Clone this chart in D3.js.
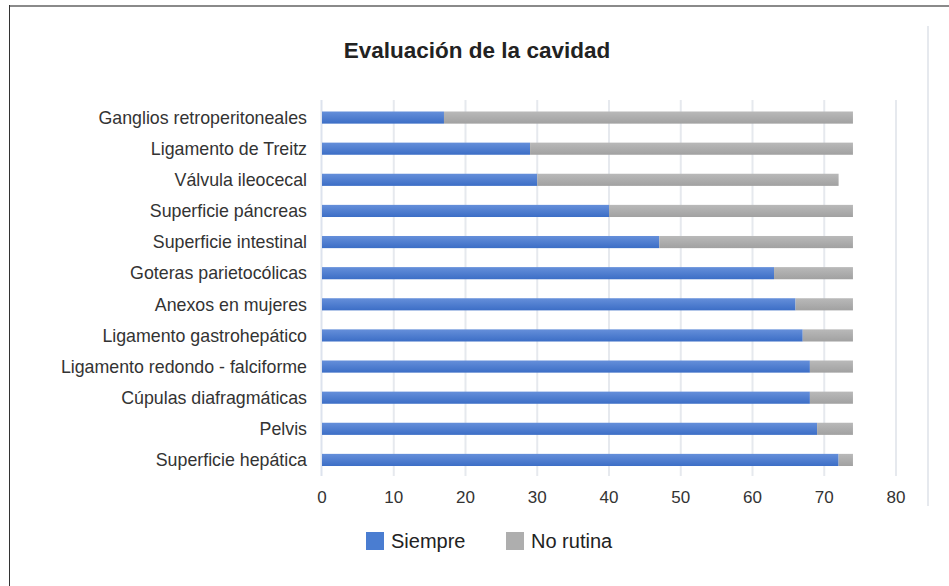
<!DOCTYPE html>
<html>
<head>
<meta charset="utf-8">
<script src="https://cdn.jsdelivr.net/npm/d3@7"></script>
<style>
  body { margin: 0; background: #fff; }
  svg { display: block; font-family: "Liberation Sans", Arial, sans-serif; }
</style>
</head>
<body>
<svg id="chart" width="949" height="586"></svg>
<script>
// Data
const categories = [
  "Ganglios retroperitoneales",
  "Ligamento de Treitz",
  "Válvula ileocecal",
  "Superficie páncreas",
  "Superficie intestinal",
  "Goteras parietocólicas",
  "Anexos en mujeres",
  "Ligamento gastrohepático",
  "Ligamento redondo - falciforme",
  "Cúpulas diafragmáticas",
  "Pelvis",
  "Superficie hepática"
];
const siempre   = [17, 29, 30, 40, 47, 63, 66, 67, 68, 68, 69, 72];
const noRutina  = [57, 45, 42, 34, 27, 11, 8, 7, 6, 6, 5, 2];
const seriesNames = ["Siempre", "No rutina"];
const xTicks = [0, 10, 20, 30, 40, 50, 60, 70, 80];

const svg = d3.select("#chart");
const margin = { top: 102, left: 322, right: 53, bottom: 110 };
const W = 949, H = 586;

// Frame
svg.append("line").attr("x1", 9).attr("x2", 949).attr("y1", 6).attr("y2", 6)
  .attr("stroke", "#8a8a8a").attr("stroke-width", 2);
svg.append("line").attr("x1", 9.5).attr("x2", 9.5).attr("y1", 5).attr("y2", H)
  .attr("stroke", "#333").attr("stroke-width", 1);
svg.append("line").attr("x1", 928).attr("x2", 928).attr("y1", 26).attr("y2", 506)
  .attr("stroke", "#e6e9ee").attr("stroke-width", 2);

// Gradients
const defs = svg.append("defs");
function grad(id, top, bottom) {
  const g = defs.append("linearGradient").attr("id", id)
    .attr("x1", 0).attr("x2", 0).attr("y1", 0).attr("y2", 1);
  g.append("stop").attr("offset", "0%").attr("stop-color", top);
  g.append("stop").attr("offset", "100%").attr("stop-color", bottom);
}
grad("gBlue", "#658fda", "#3c6ec6");
grad("gGray", "#b9b9b9", "#a1a1a1");

const x = d3.scaleLinear().domain([0, 80]).range([margin.left, 896]);
const y = d3.scaleBand().domain(categories)
  .range([margin.top, 475.5]).paddingInner(0.61).paddingOuter(0.305);

// Grid
svg.append("g").selectAll("line").data(xTicks.slice(1)).join("line")
  .attr("x1", d => x(d)).attr("x2", d => x(d))
  .attr("y1", margin.top - 2).attr("y2", 476)
  .attr("stroke", "#e6e9ee").attr("stroke-width", 2);
svg.append("line").attr("x1", x(0) - 0.5).attr("x2", x(0) - 0.5)
  .attr("y1", margin.top - 2).attr("y2", 476)
  .attr("stroke", "#dde3ee").attr("stroke-width", 2);

// Bars
const rows = categories.map((c, i) => ({ c, a: siempre[i], b: noRutina[i] }));
const bars = svg.append("g");
bars.selectAll("rect.s").data(rows).join("rect").attr("class", "s")
  .attr("x", x(0)).attr("y", d => y(d.c))
  .attr("width", d => x(d.a) - x(0)).attr("height", y.bandwidth())
  .attr("fill", "url(#gBlue)");
bars.selectAll("rect.n").data(rows).join("rect").attr("class", "n")
  .attr("x", d => x(d.a)).attr("y", d => y(d.c))
  .attr("width", d => x(d.a + d.b) - x(d.a)).attr("height", y.bandwidth())
  .attr("fill", "url(#gGray)");

// Category labels
svg.append("g").selectAll("text").data(categories).join("text")
  .attr("x", 307).attr("y", d => y(d) + y.bandwidth() / 2)
  .attr("dy", "0.35em").attr("text-anchor", "end")
  .attr("font-size", 17.8).attr("fill", "#333")
  .text(d => d);

// X axis labels
svg.append("g").selectAll("text").data(xTicks).join("text")
  .attr("x", d => x(d)).attr("y", 497).attr("dy", "0.35em")
  .attr("text-anchor", "middle").attr("font-size", 17).attr("fill", "#333")
  .text(d => d);

// Title
svg.append("text").attr("x", 477).attr("y", 50).attr("dy", "0.35em")
  .attr("text-anchor", "middle").attr("font-size", 22.5).attr("font-weight", "bold")
  .attr("fill", "#222").text("Evaluación de la cavidad");

// Legend
const legendColors = ["#4a7dd1", "#aeaeae"];
const legendX = [366, 506];
const lg = svg.append("g").selectAll("g").data(seriesNames).join("g")
  .attr("transform", (d, i) => `translate(${legendX[i]},532)`);
lg.append("rect").attr("width", 18).attr("height", 18)
  .attr("fill", (d, i) => legendColors[i]);
lg.append("text").attr("x", 25).attr("y", 9).attr("dy", "0.35em")
  .attr("font-size", 20).attr("fill", "#222").text(d => d);
</script>
</body>
</html>
